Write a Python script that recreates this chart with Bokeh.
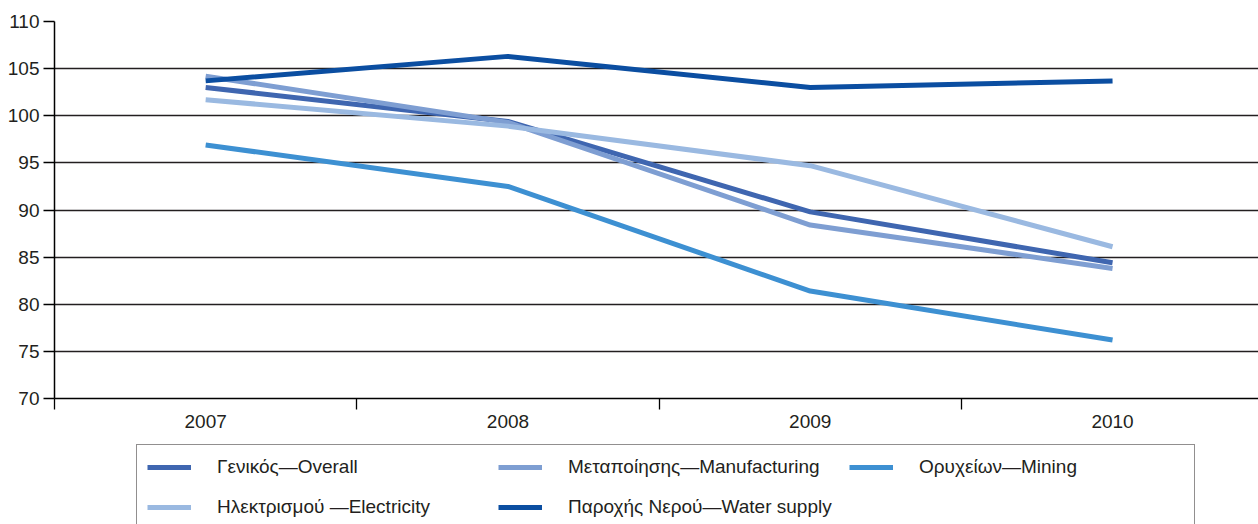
from bokeh.plotting import figure
from bokeh.models import Range1d, FixedTicker, Legend, LegendItem
from bokeh.layouts import column
from bokeh.embed import file_html
from bokeh.resources import INLINE

years = ["2007", "2008", "2009", "2010"]
overall = [103.0, 99.4, 89.8, 84.4]
manufacturing = [104.2, 99.3, 88.4, 83.8]
mining = [96.9, 92.5, 81.4, 76.2]
electricity = [101.7, 98.9, 94.7, 86.1]
water = [103.7, 106.3, 103.0, 103.7]

y_ticks = [70, 75, 80, 85, 90, 95, 100, 105, 110]

series = [
    ("Γενικός—Overall", overall, "#3f66b0"),
    ("Μεταποίησης—Manufacturing", manufacturing, "#7e9ed2"),
    ("Ορυχείων—Mining", mining, "#3d90d2"),
    ("Ηλεκτρισμού —Electricity", electricity, "#9ab9e1"),
    ("Παροχής Νερού—Water supply", water, "#0b4ea1"),
]

FONT = "Liberation Sans"
FS = "19px"
TXT = "#231f20"
CAT_W = 302.3
FRAME_W = 1204

xs = [i + 0.5 for i in range(len(years))]

p = figure(width=1258, height=440, output_backend="svg", toolbar_location=None,
           x_range=Range1d(0, FRAME_W / CAT_W), y_range=Range1d(70, 110),
           min_border_left=54, min_border_right=0, min_border_top=21,
           min_border_bottom=42)
p.outline_line_color = None
p.background_fill_color = "white"
p.border_fill_color = "white"

for label, vals, color in series:
    p.line(xs, vals, line_color=color, line_width=5)

# y axis
p.yaxis.ticker = FixedTicker(ticks=y_ticks)
p.yaxis.axis_line_color = "black"
p.yaxis.axis_line_width = 1.5
p.yaxis.major_tick_out = 11
p.yaxis.major_tick_in = 0
p.yaxis.major_tick_line_color = "black"
p.yaxis.major_tick_line_width = 1.3
p.yaxis.minor_tick_line_color = None
p.yaxis.major_label_standoff = 4
p.yaxis.major_label_text_font = FONT
p.yaxis.major_label_text_font_size = FS
p.yaxis.major_label_text_color = TXT

# x axis: labels centred in categories, ticks on category boundaries
p.xaxis.ticker = FixedTicker(ticks=xs, minor_ticks=list(range(len(years) + 1)))
p.xaxis.major_label_overrides = {x: y for x, y in zip(xs, years)}
p.xaxis.axis_line_color = "black"
p.xaxis.axis_line_width = 1.5
p.xaxis.major_tick_line_color = None
p.xaxis.major_tick_out = 0
p.xaxis.major_tick_in = 0
p.xaxis.minor_tick_out = 11
p.xaxis.minor_tick_in = 0
p.xaxis.minor_tick_line_color = "black"
p.xaxis.minor_tick_line_width = 1.3
p.xaxis.major_label_standoff = 5
p.xaxis.major_label_text_font = FONT
p.xaxis.major_label_text_font_size = FS
p.xaxis.major_label_text_color = TXT

p.xgrid.grid_line_color = None
p.ygrid.ticker = FixedTicker(ticks=y_ticks)
p.ygrid.grid_line_color = "#231f20"
p.ygrid.grid_line_width = 1.3

# legend strip (separate figure so the boxed legend can run off the bottom edge)
lg = figure(width=1258, height=84, output_backend="svg", toolbar_location=None,
            x_range=Range1d(100, 101), y_range=Range1d(0, 1),
            min_border=0, x_axis_location=None, y_axis_location=None)
lg.outline_line_color = None
lg.xgrid.visible = False
lg.ygrid.visible = False
items = []
for label, vals, color in series:
    r = lg.line(xs, vals, line_color=color, line_width=5)
    items.append(LegendItem(label=label, renderers=[r]))

legend = Legend(items=items, orientation="horizontal", ncols=3,
                location=(82, -6),
                glyph_width=44, glyph_height=24, label_standoff=26,
                label_width=265, label_height=24, spacing=16, padding=10,
                label_text_font=FONT, label_text_font_size=FS,
                label_text_color=TXT,
                border_line_color="#231f20", border_line_width=1.5,
                background_fill_color="white", background_fill_alpha=1.0,
                margin=0)
lg.add_layout(legend, "center")

layout = column(p, lg, spacing=0)
open("out.html", "w").write(file_html(layout, INLINE))
